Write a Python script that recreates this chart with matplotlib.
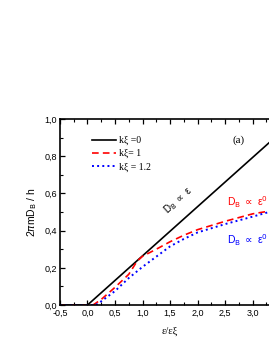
import matplotlib
matplotlib.use("Agg")
import matplotlib.pyplot as plt
from matplotlib.ticker import MultipleLocator

# values (eps / eps_xi -> 2*pi*m*D_B / h)
x_k0 = [-0.5, 0.0, 3.5]
y_k0 = [0.0, 0.0, 0.925]

x_k1 = [-0.5, 0.0, 0.1, 0.25, 0.5, 0.75, 0.9, 1.0, 1.25, 1.5, 1.75, 2.0, 2.5, 3.0, 3.3, 3.5]
y_k1 = [0.0, 0.0, 0.0, 0.03, 0.095, 0.165, 0.235, 0.262, 0.30, 0.34, 0.375, 0.405, 0.45, 0.49, 0.505, 0.512]

x_k12 = [-0.5, 0.0, 0.15, 0.25, 0.5, 0.75, 1.0, 1.25, 1.5, 1.75, 2.0, 2.5, 3.0, 3.3, 3.5]
y_k12 = [0.0, 0.0, 0.0, 0.02, 0.075, 0.145, 0.205, 0.26, 0.315, 0.355, 0.39, 0.435, 0.475, 0.50, 0.51]

labels = ["k\u03be =0", "k\u03be= 1", "k\u03be = 1.2"]

plt.rcParams["font.family"] = ["Liberation Sans", "DejaVu Sans"]
serif = ["Liberation Serif", "DejaVu Serif"]

fig = plt.figure(figsize=(2.69, 3.49), dpi=100)
# axes runs past the right edge of the figure, as in the reference
ax = fig.add_axes([0.223, 0.126, 0.818, 0.533])

ax.plot(x_k0, y_k0, "-", color="black", lw=1.2, label=labels[0])
ax.plot(x_k1, y_k1, "--", color="red", lw=1.2, dashes=(4, 2.5), label=labels[1])
ax.plot(x_k12, y_k12, ":", color="blue", lw=1.4, label=labels[2])

ax.set_xlim(-0.5, 3.5)
ax.set_ylim(0.0, 1.0)
ax.xaxis.set_major_locator(MultipleLocator(0.5))
ax.xaxis.set_minor_locator(MultipleLocator(0.25))
ax.yaxis.set_major_locator(MultipleLocator(0.2))
ax.yaxis.set_minor_locator(MultipleLocator(0.1))
fmt = lambda v, p: f"{v:.1f}".replace(".", ",")
# the 3,5 label falls outside the cropped figure
ax.xaxis.set_major_formatter(lambda v, p: fmt(v, p) if v < 3.25 else "")
ax.yaxis.set_major_formatter(fmt)
ax.tick_params(which="both", direction="in", top=True, right=True, labelsize=6.5)
ax.tick_params(axis="x", pad=3)
ax.tick_params(axis="y", pad=2)
ax.tick_params(which="major", length=3.5, width=0.9)
ax.tick_params(which="minor", length=2, width=0.8)
for s in ax.spines.values():
    s.set_linewidth(1.2)

ax.set_xlabel("\u03b5/\u03b5\u03be", family=serif, fontsize=7.5, labelpad=6)
ax.set_ylabel(r"2$\pi$mD$_{\rm B}$ / h", fontsize=7.5, labelpad=4)

leg = ax.legend(loc="upper left", bbox_to_anchor=(0.13, 0.93), frameon=False,
                prop={"family": serif, "size": 7}, handlelength=2.4,
                handletextpad=0.3, labelspacing=0.4, borderaxespad=0)

ax.text(0.81, 0.885, "(a)", transform=ax.transAxes, family=serif, fontsize=8,
        ha="center", va="center")
ax.text(1.65, 0.565, "D$_{\\rm B}$ $\\propto$ \u03b5", rotation=42, fontsize=7,
        ha="center", va="center", rotation_mode="anchor")
ax.text(3.28, 0.555, "D$_{\\rm B}$ $\\propto$ \u03b5$^0$", color="red",
        fontsize=7.5, ha="right", va="center")
ax.text(3.28, 0.35, "D$_{\\rm B}$ $\\propto$ \u03b5$^0$", color="blue",
        fontsize=7.5, ha="right", va="center")

fig.savefig("out.png", dpi=100)
